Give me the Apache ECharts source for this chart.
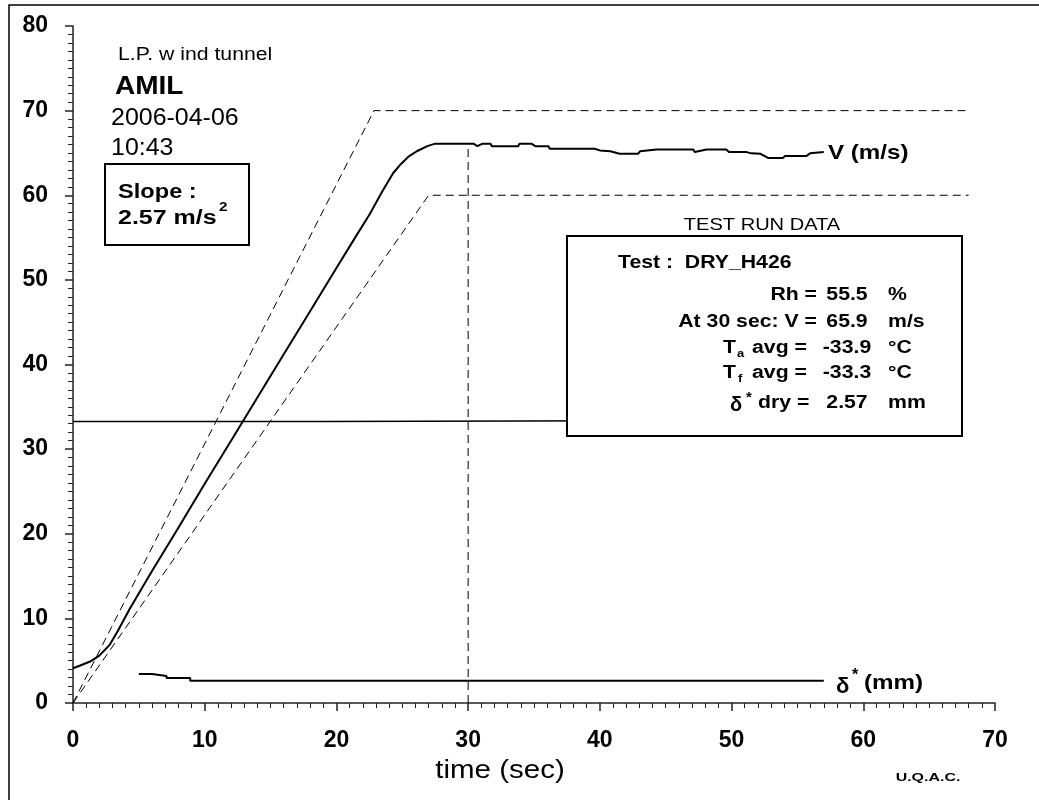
<!DOCTYPE html>
<html>
<head>
<meta charset="utf-8">
<script src="https://cdn.jsdelivr.net/npm/echarts@6/dist/echarts.min.js"></script>
<style>
  html, body { margin: 0; padding: 0; background: #fff; }
  #chart { width: 1039px; height: 800px; }
</style>
</head>
<body>
<div id="chart"></div>
<script>
// axis ranges
const timeMin = 0, timeMax = 70, timeStep = 10;
const valMin = 0, valMax = 80, valStep = 10;

// V (m/s) : [time, speed]
const speedCurve = [
  [0, 4.1], [0.5, 4.4], [1.3, 4.9], [2, 5.6], [2.8, 6.9], [3.4, 8.5],
  [4.3, 11.1], [6, 15.6], [8, 20.7], [10, 25.9], [12, 31.0], [14, 36.1],
  [16, 41.2], [18, 46.3], [20, 51.4], [21.5, 55.2], [22.5, 57.7],
  [23.5, 60.5], [24.3, 62.6], [24.9, 63.7], [25.5, 64.6], [26.1, 65.2],
  [26.9, 65.8], [27.5, 66.1], [30.4, 66.1], [30.7, 65.8], [31.1, 66.1],
  [31.7, 66.1], [31.8, 65.8], [33.8, 65.8], [33.9, 66.1], [34.8, 66.1],
  [35.1, 65.8], [36.1, 65.8], [36.2, 65.5], [39.6, 65.5], [40.0, 65.3],
  [40.8, 65.2], [41.5, 64.9], [42.9, 64.9], [43.05, 65.2], [44.3, 65.4],
  [47.1, 65.4], [47.2, 65.1], [48.1, 65.4], [49.6, 65.4], [49.8, 65.1],
  [51.15, 65.1], [51.5, 64.95], [52.2, 64.9], [52.8, 64.4], [53.9, 64.4],
  [54.06, 64.65], [55.7, 64.65], [55.96, 64.96], [57, 65.1]
];

// dashed envelope lines and the 30 s marker
const upperRamp = [[0, 0], [22.85, 70], [68, 70]];
const lowerRamp = [[0, 0], [27, 60], [68, 60]];
const mark30 = [[30, 0], [30, 66]];

// flat trace near 33
const flatTrace = [[0, 33.25], [18.8, 33.25], [18.8, 33.4], [57, 33.4]];

// delta* (mm)
const deltaTrace = [
  [5, 3.43], [6, 3.43], [6, 3.2], [7.1, 3.2], [7.1, 2.95], [8.9, 2.95],
  [8.9, 2.64], [57, 2.64]
];

// test run box
const runLabels = ['Rh =', 'At 30 sec: V =', 'avg =', 'avg =', 'dry ='];
const runValues = ['55.5', '65.9', '-33.9', '-33.3', '2.57'];
const runUnits = ['%', 'm/s', '°C', '°C', 'mm'];

const FONT = '"Liberation Sans", Arial, sans-serif';
const WIDE = 1.18; // the original lettering is drawn a little wider than it is tall
const chart = echarts.init(document.getElementById('chart'));

function txt(x, y, text, size, bold, align, sx) {
  return {
    type: 'text', x: x, y: y, z: 110, silent: true,
    scaleX: sx == null ? WIDE : sx,
    style: {
      text: text, fill: '#000',
      font: (bold ? 'bold ' : '') + size + 'px ' + FONT,
      textAlign: align || 'left', textVerticalAlign: 'middle'
    }
  };
}

function lineSeries(data, width, dashed) {
  return {
    type: 'line', data: data, showSymbol: false, symbol: 'none',
    silent: true, animation: false,
    lineStyle: { color: '#000', width: width, type: dashed ? [8, 5] : 'solid' }
  };
}

const rowsY = [295, 322, 348, 373, 403];
const graphics = [
  // outer frame
  { type: 'rect', z: 90, silent: true, shape: { x: 9, y: 5, width: 1040, height: 800 },
    style: { fill: null, stroke: '#000', lineWidth: 1.5 } },

  txt(118, 55, 'L.P. w ind tunnel', 18, false),
  txt(115, 87, 'AMIL', 25, true, 'left', 1.12),
  txt(111, 118, '2006-04-06', 24, false, 'left', 1.04),
  txt(111, 148, '10:43', 24, false, 'left', 1.04),

  { type: 'rect', z: 100, silent: true, shape: { x: 105, y: 164, width: 144, height: 81 },
    style: { fill: '#fff', stroke: '#000', lineWidth: 2 } },
  txt(118, 192, 'Slope :', 20, true),
  txt(118, 218, '2.57 m/s', 20, true, 'left', 1.25),
  txt(219, 207, '2', 13, true),

  txt(762, 225, 'TEST RUN DATA', 17, false, 'center'),
  { type: 'rect', z: 100, silent: true, shape: { x: 567, y: 236, width: 395, height: 200 },
    style: { fill: '#fff', stroke: '#000', lineWidth: 2 } },
  txt(618, 263, 'Test :  DRY_H426', 18, true),

  txt(817, rowsY[0], runLabels[0], 18, true, 'right'),
  txt(817, rowsY[1], runLabels[1], 18, true, 'right'),
  txt(723, rowsY[2], 'T', 18, true),
  txt(737, rowsY[2] + 6, 'a', 11, true),
  txt(752, rowsY[2], runLabels[2], 18, true),
  txt(723, rowsY[3], 'T', 18, true),
  txt(738, rowsY[3] + 6, 'f', 11, true),
  txt(752, rowsY[3], runLabels[3], 18, true),
  txt(730, rowsY[4] + 2, 'δ', 20, true, 'left', 1),
  txt(746, rowsY[4] - 5, '*', 15, true, 'left', 1),
  txt(758, rowsY[4], runLabels[4], 18, true),

  txt(828, 153, 'V (m/s)', 21, true, 'left', 1.15),
  txt(836, 687, 'δ', 22, true, 'left', 1),
  txt(852, 676, '*', 16, true, 'left', 1),
  txt(864, 683, '(mm)', 21, true, 'left', 1.15),

  txt(500, 771, 'time (sec)', 25, false, 'center'),
  txt(928, 778, 'U.Q.A.C.', 11, true, 'center', 1.45)
];
runValues.forEach((v, i) => graphics.push(txt(847, rowsY[i], v, 18, true, 'center')));
runUnits.forEach((u, i) => graphics.push(txt(888, rowsY[i], u, 18, true)));

const axisStyle = { show: true, lineStyle: { color: '#222', width: 1.5 } };
const axisFont = { color: '#000', fontSize: 23, fontWeight: 'bold', fontFamily: FONT };

chart.setOption({
  animation: false,
  backgroundColor: '#fff',
  grid: { left: 73, right: 44, top: 26, bottom: 97, containLabel: false },
  xAxis: {
    type: 'value', min: timeMin, max: timeMax, interval: timeStep,
    axisLine: axisStyle,
    axisTick: { show: true, length: 8, lineStyle: { color: '#222', width: 1.5 } },
    minorTick: { show: true, splitNumber: 10, length: 5, lineStyle: { color: '#222', width: 1 } },
    splitLine: { show: false },
    axisLabel: Object.assign({ margin: 26 }, axisFont)
  },
  yAxis: {
    type: 'value', min: valMin, max: valMax, interval: valStep,
    axisLine: axisStyle,
    axisTick: { show: true, length: 8, lineStyle: { color: '#222', width: 1.5 } },
    minorTick: { show: true, splitNumber: 10, length: 5, lineStyle: { color: '#222', width: 1 } },
    splitLine: { show: false },
    axisLabel: Object.assign({ margin: 25 }, axisFont)
  },
  series: [
    lineSeries(upperRamp, 1, true),
    lineSeries(lowerRamp, 1, true),
    lineSeries(mark30, 1, true),
    lineSeries(flatTrace, 1.5, false),
    lineSeries(deltaTrace, 2, false),
    lineSeries(speedCurve, 2, false)
  ],
  graphic: { elements: graphics }
});

window.addEventListener('resize', () => chart.resize());
</script>
</body>
</html>
